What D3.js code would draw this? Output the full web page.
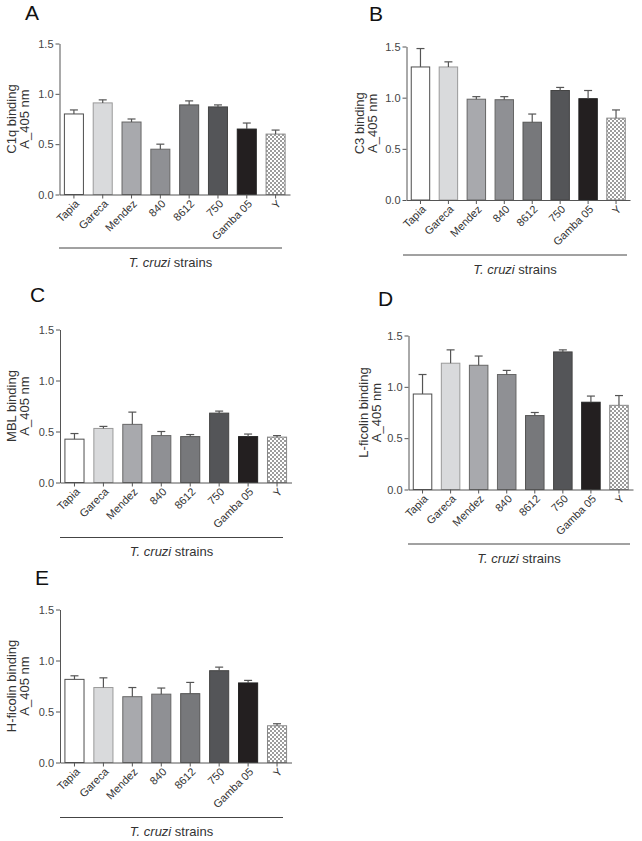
<!DOCTYPE html>
<html><head><meta charset="utf-8">
<script src="https://cdn.jsdelivr.net/npm/d3@7"></script>
<style>
html,body{margin:0;padding:0;background:#fff;}
svg{display:block;font-family:"Liberation Sans",Arial,sans-serif;}
</style></head>
<body>
<svg id="chart" width="642" height="841"></svg>
<script>
const categories = ["Tapia","Gareca","Mendez","840","8612","750","Gamba 05","Y"];
const yTicks = [0, 0.5, 1.0, 1.5];

const c1qMean = [0.80,0.91,0.72,0.45,0.89,0.87,0.65,0.60];
const c1qErr  = [0.04,0.03,0.03,0.05,0.04,0.02,0.06,0.04];
const c3Mean  = [1.30,1.30,0.985,0.98,0.76,1.07,0.99,0.80];
const c3Err   = [0.18,0.05,0.025,0.03,0.08,0.03,0.08,0.08];
const mblMean = [0.425,0.53,0.57,0.46,0.45,0.68,0.45,0.445];
const mblErr  = [0.055,0.02,0.12,0.04,0.02,0.02,0.025,0.015];
const lfMean  = [0.93,1.23,1.21,1.12,0.72,1.34,0.85,0.82];
const lfErr   = [0.19,0.13,0.09,0.04,0.03,0.02,0.06,0.095];
const hfMean  = [0.815,0.735,0.645,0.67,0.675,0.90,0.78,0.36];
const hfErr   = [0.035,0.095,0.09,0.06,0.11,0.035,0.025,0.02];

const fills   = ["#ffffff","#d9dadc","#a8a9ad","#8f9094","#77787b","#545558","#231f20","url(#checker)"];
const strokes = ["#4d4d4d","#9a9a9a","#666666","#666666","#555555","#444444","#222222","#888888"];

const svg = d3.select("#chart");
const defs = svg.append("defs");
const pat = defs.append("pattern").attr("id","checker").attr("patternUnits","userSpaceOnUse")
  .attr("width",4).attr("height",4);
pat.append("rect").attr("width",4).attr("height",4).attr("fill","#ffffff");
pat.append("rect").attr("width",2).attr("height",2).attr("fill","#9c9c9c");
pat.append("rect").attr("x",2).attr("y",2).attr("width",2).attr("height",2).attr("fill","#9c9c9c");

const panels = [
  {letter:"A", lx:25, ly:20, title:"C1q binding", mean:c1qMean, err:c1qErr,
   ax:59.5, ar:290, yt:43.5, yb:194.5, tx:15.5, ul:248, ulx0:59, ulx1:282, sy:267},
  {letter:"B", lx:369, ly:21, title:"C3 binding", mean:c3Mean, err:c3Err,
   ax:406.5, ar:630, yt:46.5, yb:200, tx:363.5, ul:255, ulx0:403, ulx1:627, sy:274},
  {letter:"C", lx:30, ly:302, title:"MBL binding", mean:mblMean, err:mblErr,
   ax:60, ar:291.5, yt:329.5, yb:482.5, tx:15.5, ul:537.5, ulx0:60, ulx1:283, sy:556},
  {letter:"D", lx:378, ly:306, title:"L-ficolin binding", mean:lfMean, err:lfErr,
   ax:408.5, ar:633, yt:335.5, yb:489.5, tx:367.5, ul:544, ulx0:408, ulx1:630, sy:563},
  {letter:"E", lx:35, ly:585, title:"H-ficolin binding", mean:hfMean, err:hfErr,
   ax:60, ar:291.5, yt:609.5, yb:762.5, tx:15.5, ul:817.5, ulx0:60, ulx1:283, sy:836}
];

panels.forEach(p => {
  const g = svg.append("g");
  const x = d3.scaleBand().domain(categories).range([p.ax, p.ar]).paddingInner(0.34).paddingOuter(0.17);
  const y = d3.scaleLinear().domain([0,1.5]).range([p.yb, p.yt]);
  const data = categories.map((c,i)=>({c, m:p.mean[i], e:p.err[i], i}));

  g.append("text").attr("x",p.lx).attr("y",p.ly).attr("font-size",21).attr("fill","#111").text(p.letter);

  g.selectAll("rect.bar").data(data).join("rect").attr("class","bar")
    .attr("x",d=>x(d.c)).attr("width",x.bandwidth())
    .attr("y",d=>y(d.m)).attr("height",d=>y(0)-y(d.m))
    .attr("fill",d=>fills[d.i]).attr("stroke",d=>strokes[d.i]).attr("stroke-width",1);

  const cx = d => x(d.c) + x.bandwidth()/2;
  g.selectAll("line.err").data(data).join("line").attr("class","err")
    .attr("x1",cx).attr("x2",cx).attr("y1",d=>y(d.m)).attr("y2",d=>y(d.m+d.e))
    .attr("stroke","#555").attr("stroke-width",1.2);
  g.selectAll("line.cap").data(data).join("line").attr("class","cap")
    .attr("x1",d=>cx(d)-4).attr("x2",d=>cx(d)+4).attr("y1",d=>y(d.m+d.e)).attr("y2",d=>y(d.m+d.e))
    .attr("stroke","#555").attr("stroke-width",1.2);

  const ya = g.append("g").attr("transform",`translate(${p.ax},0)`)
    .call(d3.axisLeft(y).tickValues(yTicks).tickFormat(d3.format(".1f")).tickSize(4).tickPadding(2).tickSizeOuter(0));
  ya.select(".domain").attr("stroke","#555");
  ya.selectAll(".tick line").attr("stroke","#555");
  ya.selectAll(".tick text").attr("font-size",11).attr("fill","#444").attr("font-family","Liberation Sans, Arial, sans-serif");

  const xa = g.append("g").attr("transform",`translate(0,${p.yb})`)
    .call(d3.axisBottom(x).tickSize(4).tickSizeOuter(0).tickFormat(""));
  xa.select(".domain").attr("stroke","#555");
  xa.selectAll(".tick line").attr("stroke","#555");

  g.selectAll("text.cat").data(categories).join("text").attr("class","cat")
    .attr("text-anchor","end").attr("font-size",11).attr("fill","#333")
    .attr("transform",c=>`translate(${x(c)+x.bandwidth()/2+6},${p.yb+10}) rotate(-45)`)
    .text(c=>c);

  const ym = (p.yt+p.yb)/2;
  g.append("text").attr("transform",`translate(${p.tx},${ym}) rotate(-90)`)
    .attr("text-anchor","middle").attr("font-size",13).attr("fill","#333").text(p.title);
  g.append("text").attr("transform",`translate(${p.tx+13.5},${ym}) rotate(-90)`)
    .attr("text-anchor","middle").attr("font-size",13).attr("fill","#333").text("A_405 nm");

  g.append("line").attr("x1",p.ulx0).attr("x2",p.ulx1).attr("y1",p.ul).attr("y2",p.ul)
    .attr("stroke","#444").attr("stroke-width",1);
  const t = g.append("text").attr("x",(p.ulx0+p.ulx1)/2).attr("y",p.sy)
    .attr("text-anchor","middle").attr("font-size",13).attr("fill","#333");
  t.append("tspan").attr("font-style","italic").text("T. cruzi");
  t.append("tspan").text(" strains");
});
</script>
</body></html>
